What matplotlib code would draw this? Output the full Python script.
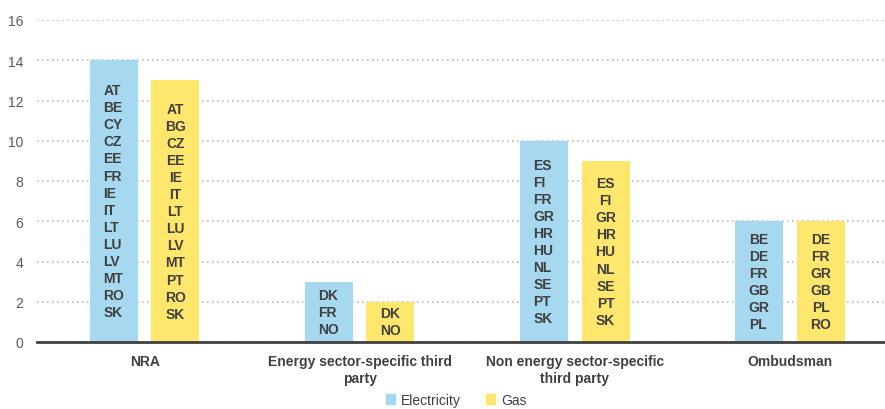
import numpy as np
import matplotlib.pyplot as plt
from matplotlib.patches import Patch

plt.rcParams['font.family'] = ['Liberation Sans', 'DejaVu Sans']

categories = ['NRA', 'Energy sector-specific third\nparty',
              'Non energy sector-specific\nthird party', 'Ombudsman']
electricity = [14, 3, 10, 6]
gas = [13, 2, 9, 6]
elec_codes = [
    ['AT', 'BE', 'CY', 'CZ', 'EE', 'FR', 'IE', 'IT', 'LT', 'LU', 'LV', 'MT', 'RO', 'SK'],
    ['DK', 'FR', 'NO'],
    ['ES', 'FI', 'FR', 'GR', 'HR', 'HU', 'NL', 'SE', 'PT', 'SK'],
    ['BE', 'DE', 'FR', 'GB', 'GR', 'PL'],
]
gas_codes = [
    ['AT', 'BG', 'CZ', 'EE', 'IE', 'IT', 'LT', 'LU', 'LV', 'MT', 'PT', 'RO', 'SK'],
    ['DK', 'NO'],
    ['ES', 'FI', 'GR', 'HR', 'HU', 'NL', 'SE', 'PT', 'SK'],
    ['DE', 'FR', 'GR', 'GB', 'PL', 'RO'],
]

c_elec = '#a6d9f0'
c_gas = '#ffe76e'
txt = '#404040'

fig = plt.figure(figsize=(8.85, 4.10), dpi=100)
ax = fig.add_axes([37/885, 67/410, 1 - 37/885, 322/410])

x = np.arange(len(categories))
w = 0.223
off = 0.143
ax.bar(x - off, electricity, w, color=c_elec, zorder=3)
ax.bar(x + off, gas, w, color=c_gas, zorder=3)

# country codes stacked inside each bar
for xi, h, codes in zip(x - off, electricity, elec_codes):
    ax.text(xi, h / 2, '\n'.join(codes), ha='center', va='center', multialignment='left',
            fontsize=10, fontweight='bold', color=txt, linespacing=1.28, zorder=4)
for xi, h, codes in zip(x + off, gas, gas_codes):
    ax.text(xi, h / 2, '\n'.join(codes), ha='center', va='center', multialignment='center',
            fontsize=10, fontweight='bold', color=txt, linespacing=1.28, zorder=4)

ax.set_ylim(0, 16)
ax.set_xlim(-0.5, -0.5 + 847.5 / 215)
ax.set_yticks(np.arange(0, 17, 2))
ax.set_xticks(x)
ax.set_xticklabels(categories, fontsize=10, fontweight='bold', color=txt)
ax.tick_params(axis='y', length=0, labelsize=10, labelcolor='#595959', pad=10)
ax.tick_params(axis='x', length=0, pad=9)
ax.grid(axis='y', linestyle=(0, (1, 2)), color='#bfbfbf', linewidth=1.2, zorder=0)
for s in ['top', 'right', 'left']:
    ax.spines[s].set_visible(False)
ax.spines['bottom'].set_color('#404040')
ax.spines['bottom'].set_linewidth(2)
ax.spines['bottom'].set_zorder(5)

handles = [Patch(color=c_elec, label='Electricity'), Patch(color=c_gas, label='Gas')]
fig.legend(handles=handles, loc='center', bbox_to_anchor=(456 / 885, 9 / 410), ncol=2,
           frameon=False, fontsize=10, handlelength=0.7, handleheight=0.7,
           handletextpad=0.4, columnspacing=1.8, labelcolor='#404040')

fig.savefig('out.png', dpi=100)
